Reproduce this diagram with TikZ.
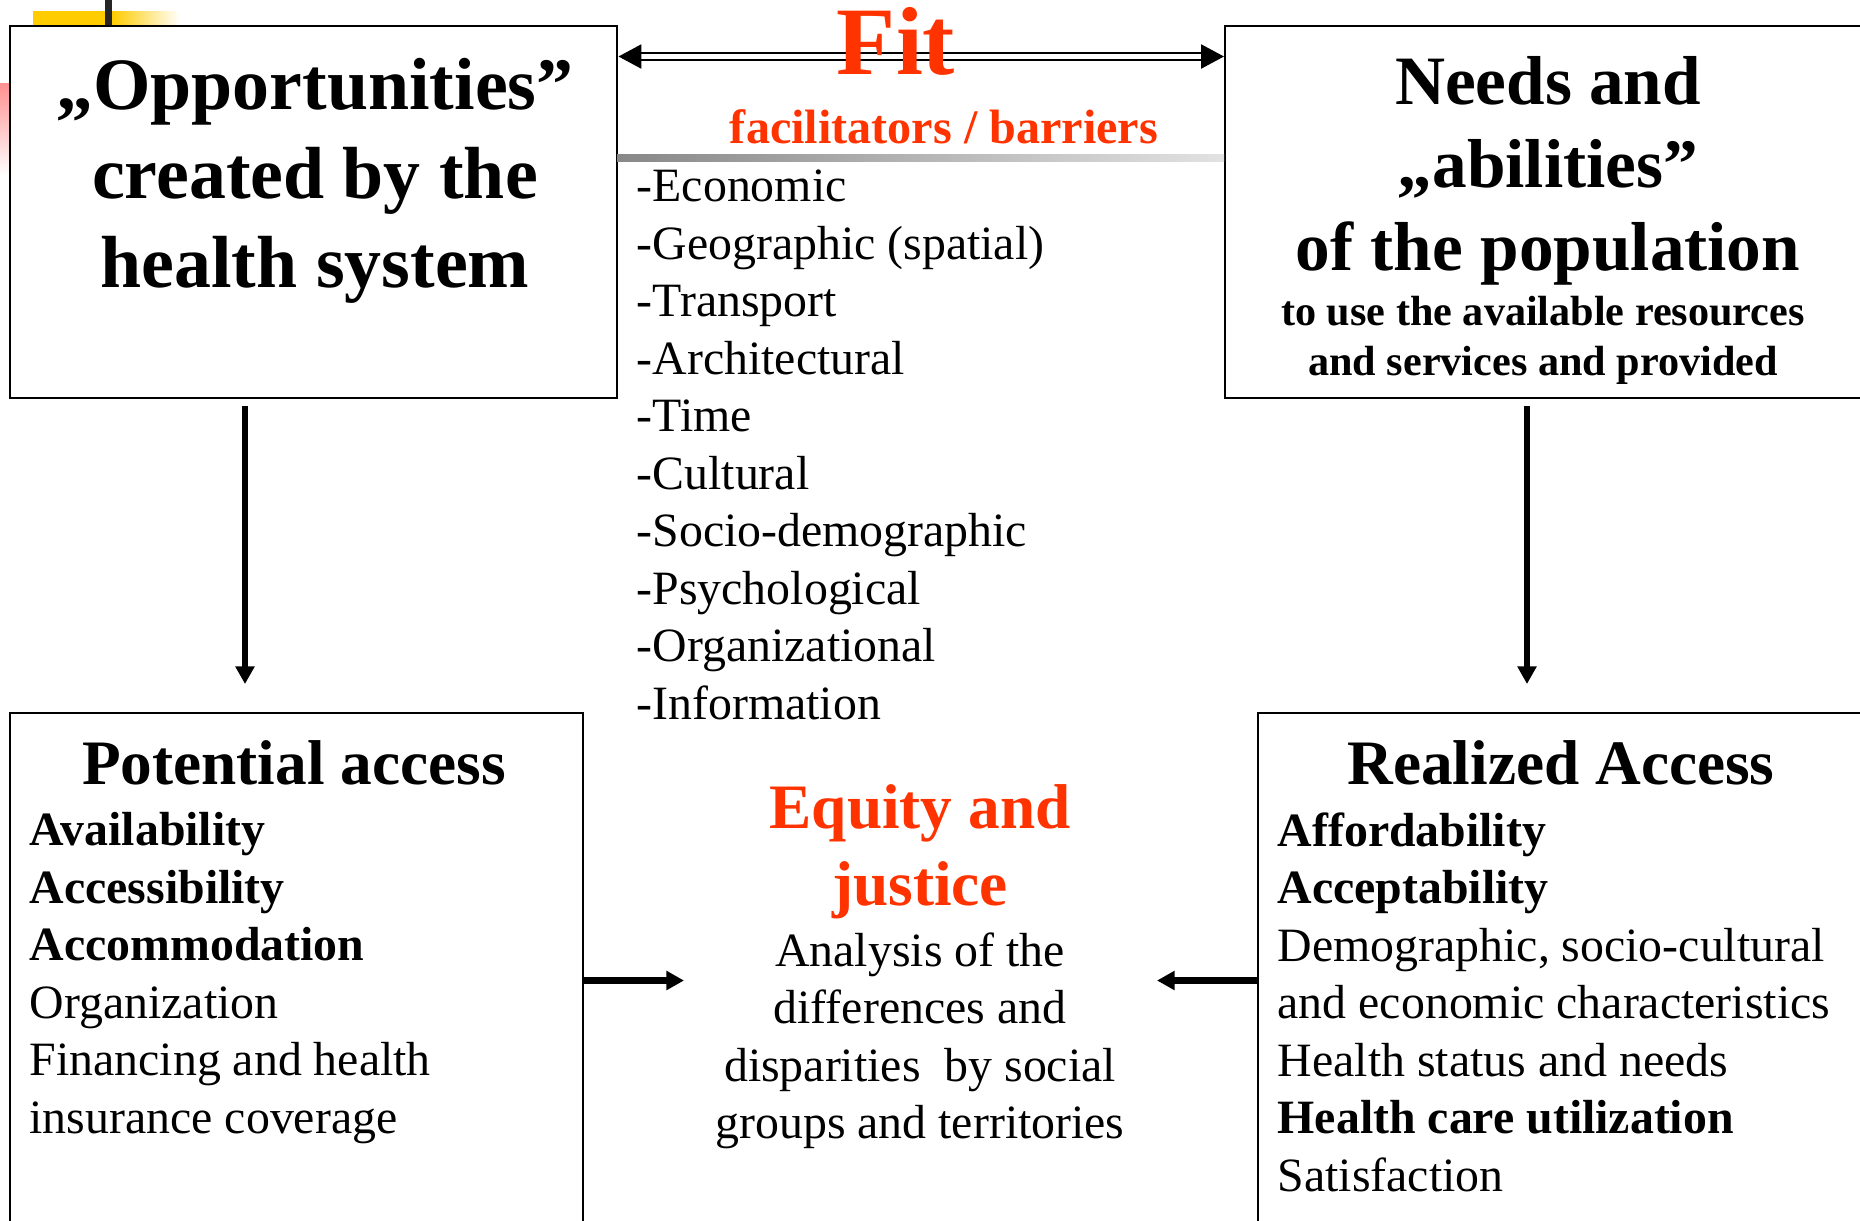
\documentclass[tikz,border=0pt]{standalone}
\usepackage{fontspec}
\setmainfont{Liberation Serif}
\usetikzlibrary{arrows.meta}

\definecolor{fitred}{HTML}{FF3300}
\definecolor{slideyellow}{HTML}{FFCC00}
\definecolor{slidepink}{HTML}{FF9090}
\definecolor{ruledark}{HTML}{888888}
\definecolor{rulelight}{HTML}{E2E2E2}

\begin{document}
\begin{tikzpicture}[x=0.01cm, y=-0.01cm,
    box/.style={draw, line width=0.6pt, anchor=north west, inner sep=0pt},
    bigtitle/.style={inner sep=0pt, anchor=north, align=center, font=\bfseries\fontsize{21}{25.3}\selectfont},
    boxtitle/.style={inner sep=0pt, anchor=base, font=\bfseries\fontsize{18}{21.9}\selectfont},
    listtext/.style={inner sep=0pt, align=left, anchor=north west, font=\fontsize{13.6}{16.35}\selectfont},
    flow/.style={line width=1.85pt, -{Triangle[length=5pt, width=5.2pt]}},
    fitarrow/.style={double, line width=0.65pt, double distance=1.4pt,
        {Triangle[length=6.5pt, width=6.8pt]}-{Triangle[length=6.5pt, width=6.8pt]}}]
    \useasboundingbox (0,0) rectangle (1860,1220);
    \clip (0,0) rectangle (1860,1220);

    % slide decoration in the corner
    \fill[slideyellow] (33,11) rectangle (105,25);
    \shade[left color=slideyellow, right color=white] (112,11) rectangle (180,25);
    \fill[black!85] (105,0) rectangle (112,25);
    \shade[top color=slidepink, bottom color=white] (0,83) rectangle (9,175);

    % the four boxes
    \node[box, minimum width=6.07cm, minimum height=3.72cm] (opp) at (9,25) {};
    \node[box, minimum width=7cm, minimum height=3.72cm] (needs) at (1224,25) {};
    \node[box, minimum width=5.73cm, minimum height=6cm] (pot) at (9,712) {};
    \node[box, minimum width=7cm, minimum height=6cm] (real) at (1257,712) {};

    % top row
    \node[bigtitle] (opptitle) at (315,58) {„Opportunities”\\created by the\\health system};
    \node[bigtitle, font=\bfseries\fontsize{19.7}{23.6}\selectfont] (needstitle) at (1548,56)
        {Needs and\\„abilities”\\of the population};
    \node[inner sep=0pt, anchor=north, align=center, font=\bfseries\fontsize{12}{14.2}\selectfont]
        (needsnote) at (1543,296) {to use the available resources\\and services and provided};

    % fit between opportunities and needs
    \coordinate (fitline) at (0,56.5);
    \draw[fitarrow] (opp.north east |- fitline) -- (needs.north west |- fitline);
    \node[inner sep=0pt, anchor=base, text=fitred, font=\bfseries\fontsize{27.5}{30}\selectfont]
        (fit) at (896,74) {Fit};
    \node[inner sep=0pt, anchor=base, text=fitred, font=\bfseries\fontsize{13.7}{16}\selectfont]
        (facil) at (944,143) {facilitators / barriers};
    \shade[left color=ruledark, right color=rulelight] (617,154) rectangle (1224,161);

    % list of factors
    \node[listtext] (factors) at (636,169.5) {-Economic\\-Geographic (spatial)\\-Transport\\
        -Architectural\\-Time\\-Cultural\\-Socio-demographic\\-Psychological\\
        -Organizational\\-Information};

    % bottom row
    \node[boxtitle] (pottitle) at (294,784) {Potential access};
    \node[listtext] (potlist) at (29,812) {\textbf{Availability}\\\textbf{Accessibility}\\
        \textbf{Accommodation}\\Organization\\Financing and health\\insurance coverage};

    \node[boxtitle] (realtitle) at (1561,784) {Realized Access};
    \node[listtext] (reallist) at (1277,812) {\textbf{Affordability}\\\textbf{Acceptability}\\
        Demographic, socio-cultural\\and economic characteristics\\Health status and needs\\
        \textbf{Health care utilization}\\Satisfaction};

    \node[inner sep=0pt, anchor=north, align=center, text=fitred,
        font=\bfseries\fontsize{18}{21.9}\selectfont] (equity) at (920,784) {Equity and\\justice};
    \node[listtext, anchor=north, align=center] (analysis) at (920,932)
        {Analysis of the\\differences and\\disparities\ \ by social\\groups and territories};

    % arrows
    \coordinate (oppout) at (245,406);
    \coordinate (potin) at (245,684);
    \coordinate (needsout) at (1527,406);
    \coordinate (realin) at (1527,684);
    \coordinate (eqleft) at (684,980.5);
    \coordinate (eqright) at (1157,980.5);
    \draw[flow] (oppout) -- (potin);
    \draw[flow] (needsout) -- (realin);
    \draw[flow] (pot.north east |- eqleft) -- (eqleft);
    \draw[flow] (real.north west |- eqright) -- (eqright);
\end{tikzpicture}
\end{document}
